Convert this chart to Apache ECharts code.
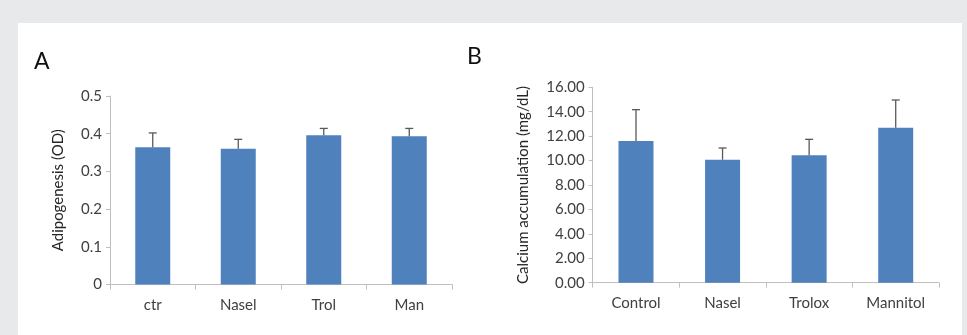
<!DOCTYPE html>
<html><head><meta charset="utf-8">
<script src="https://cdn.jsdelivr.net/npm/echarts@6/dist/echarts.min.js"></script>
<style>html,body{margin:0;padding:0;background:#e8e9ea}#c{width:967px;height:335px}</style>
</head><body><div id="c"></div>
<script>
const catsA = ['ctr', 'Nasel', 'Trol', 'Man'];
const valsA = [0.364, 0.360, 0.396, 0.393];
const errTopA = [0.402, 0.385, 0.414, 0.414];
const ticksA = [0, 0.1, 0.2, 0.3, 0.4, 0.5];

const catsB = ['Control', 'Nasel', 'Trolox', 'Mannitol'];
const valsB = [11.60, 10.07, 10.43, 12.69];
const errTopB = [14.17, 11.03, 11.74, 14.96];
const ticksB = [0, 2, 4, 6, 8, 10, 12, 14, 16];

const FONT = 'Lato';
const barColor = '#4f81bd';
const axisColor = '#bfbfbf';
const labelColor = '#404040';

function errSeries(xi, yi, vals, tops) {
  return {
    type: 'custom', xAxisIndex: xi, yAxisIndex: yi, z: 3,
    data: vals.map((v, i) => [i, v, tops[i]]),
    renderItem: function (params, api) {
      const i = api.value(0);
      const p0 = api.coord([i, api.value(1)]);
      const p1 = api.coord([i, api.value(2)]);
      const cap = 4;
      return {
        type: 'group',
        children: [
          {type: 'line', shape: {x1: p0[0], y1: p0[1], x2: p1[0], y2: p1[1]}, style: {stroke: '#595959', lineWidth: 1.3}},
          {type: 'line', shape: {x1: p1[0] - cap, y1: p1[1], x2: p1[0] + cap, y2: p1[1]}, style: {stroke: '#595959', lineWidth: 1.3}}
        ]
      };
    }
  };
}

function xAxis(gi, cats) {
  return {
    type: 'category', gridIndex: gi, data: cats,
    axisLine: {lineStyle: {color: axisColor, width: 1}},
    axisTick: {show: true, length: 5, lineStyle: {color: axisColor}},
    axisLabel: {color: labelColor, fontFamily: FONT, fontSize: 15, margin: 13}
  };
}
function yAxis(gi, ticks, name, gap, fmt) {
  return {
    type: 'value', gridIndex: gi, min: ticks[0], max: ticks[ticks.length - 1],
    interval: ticks[1] - ticks[0],
    name: name, nameLocation: 'middle', nameGap: gap, nameRotate: 90,
    nameTextStyle: {color: '#262626', fontFamily: FONT, fontSize: 15},
    axisLine: {show: true, lineStyle: {color: axisColor, width: 1}},
    axisTick: {show: true, length: 4, lineStyle: {color: axisColor}},
    splitLine: {show: false},
    axisLabel: {color: labelColor, fontFamily: FONT, fontSize: 15, margin: 8, formatter: fmt}
  };
}

const chart = echarts.init(document.getElementById('c'), null, {renderer: 'canvas'});
chart.setOption({
  backgroundColor: '#e8e9ea',
  animation: false,
  graphic: [
    {type: 'rect', z: -10, shape: {x: 18, y: 23, width: 944, height: 320}, style: {fill: '#ffffff'}},
    {type: 'text', left: 34, top: 50, style: {text: 'A', font: '23px ' + FONT, fill: '#111'}},
    {type: 'text', left: 467, top: 45, style: {text: 'B', font: '23px ' + FONT, fill: '#111'}}
  ],
  grid: [
    {left: 110, top: 96, width: 342, height: 188.5},
    {left: 592.7, top: 87.3, width: 346.3, height: 195.4}
  ],
  xAxis: [xAxis(0, catsA), xAxis(1, catsB)],
  yAxis: [
    yAxis(0, ticksA, 'Adipogenesis (OD)', 44, v => String(+v.toFixed(1))),
    yAxis(1, ticksB, 'Calcium accumulation (mg/dL)', 62, v => v.toFixed(2))
  ],
  series: [
    {type: 'bar', xAxisIndex: 0, yAxisIndex: 0, data: valsA, barWidth: 35, itemStyle: {color: barColor}},
    errSeries(0, 0, valsA, errTopA),
    {type: 'bar', xAxisIndex: 1, yAxisIndex: 1, data: valsB, barWidth: 35, itemStyle: {color: barColor}},
    errSeries(1, 1, valsB, errTopB)
  ]
});
</script></body></html>
